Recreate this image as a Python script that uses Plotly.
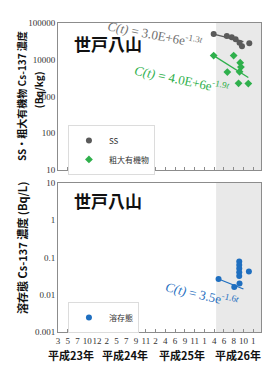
import plotly.graph_objects as go
from plotly.subplots import make_subplots

# ---- data ----
tick_labels = ["3", "5", "7", "10", "12", "2", "5", "7", "9", "11", "2", "4", "6", "9", "11", "1", "4", "6", "8", "10", "1"]
year_labels = ["平成23年", "平成24年", "平成25年", "平成26年"]
year_pos = [1.3, 6.9, 12.75, 18.4]

ss_x = [15.95, 17.3, 17.8, 18.2, 18.6, 18.85, 19.6]
ss_y = [50000, 44500, 40800, 36000, 29000, 23400, 28000]
ss_fit_x = [15.95, 19.0]
ss_fit_y = [50000, 31000]

org_x = [15.95, 18.0, 18.67, 18.74, 17.35, 18.6, 18.5, 19.5]
org_y = [13000, 13000, 8300, 6330, 4640, 4730, 2290, 2250]
org_fit_x = [15.95, 19.5]
org_fit_y = [13000, 3300]

dis_x = [16.45, 18.06, 18.57, 18.57, 18.57, 18.57, 18.57, 18.6, 19.56]
dis_y = [0.0265, 0.0162, 0.078, 0.063, 0.051, 0.040, 0.032, 0.020, 0.042]
dis_fit_x = [16.45, 19.0]
dis_fit_y = [0.0265, 0.0143]

top_ticks = [10, 100, 1000, 10000, 100000]
top_ticktext = ["10", "100", "1000", "10000", "100000"]
bot_ticks = [0.001, 0.01, 0.1, 1, 10]
bot_ticktext = ["0.001", "0.01", "0.1", "1", "10"]

shade_range = [16.2, 20.8]
x_range = [0, 20.8]

GRAY = "#5a5a5a"
GREEN = "#2fb04c"
BLUE = "#1f6fc0"
CJK = "Noto Sans CJK JP"
SERIF = "Liberation Serif"

fig = make_subplots(rows=2, cols=1, shared_xaxes=False, vertical_spacing=0.04)

fig.add_trace(go.Scatter(x=ss_fit_x, y=ss_fit_y, mode="lines", line=dict(color=GRAY, width=1.3),
                         showlegend=False, hoverinfo="skip"), row=1, col=1)
fig.add_trace(go.Scatter(x=org_fit_x, y=org_fit_y, mode="lines", line=dict(color=GREEN, width=1.3),
                         showlegend=False, hoverinfo="skip"), row=1, col=1)
fig.add_trace(go.Scatter(x=ss_x, y=ss_y, mode="markers", name="SS",
                         marker=dict(color=GRAY, size=6, symbol="circle"), legend="legend"), row=1, col=1)
fig.add_trace(go.Scatter(x=org_x, y=org_y, mode="markers", name="粗大有機物",
                         marker=dict(color=GREEN, size=6, symbol="diamond"), legend="legend"), row=1, col=1)

fig.add_trace(go.Scatter(x=dis_fit_x, y=dis_fit_y, mode="lines", line=dict(color=BLUE, width=1.3),
                         showlegend=False, hoverinfo="skip"), row=2, col=1)
fig.add_trace(go.Scatter(x=dis_x, y=dis_y, mode="markers", name="溶存態",
                         marker=dict(color=BLUE, size=6, symbol="circle"), legend="legend2"), row=2, col=1)

top_dom = [0.524, 1.0]
bot_dom = [0.0, 0.482]

axis_common = dict(showline=True, mirror=True, linecolor="#8c8c8c", linewidth=1, showgrid=False, zeroline=False)
fig.update_layout(
    xaxis=dict(range=x_range, tickvals=list(range(len(tick_labels))), ticktext=tick_labels,
               showticklabels=False, ticks="inside", ticklen=3, tickcolor="#8c8c8c", **axis_common),
    xaxis2=dict(range=x_range, tickvals=list(range(len(tick_labels))), ticktext=tick_labels,
                ticks="inside", ticklen=3, tickcolor="#8c8c8c",
                tickfont=dict(family=SERIF, size=9, color="#333"), tickangle=0, **axis_common),
    yaxis=dict(type="log", domain=top_dom, range=[1, 5], tickvals=top_ticks, ticktext=top_ticktext,
               tickfont=dict(family=SERIF, size=9, color="#333"), ticks="", **axis_common),
    yaxis2=dict(type="log", domain=bot_dom, range=[-3, 1], tickvals=bot_ticks, ticktext=bot_ticktext,
                tickfont=dict(family=SERIF, size=9, color="#333"), ticks="", **axis_common),
)
fig.update_xaxes(domain=[0, 1])

fig.add_shape(type="rect", xref="x", yref="y domain", x0=shade_range[0], x1=shade_range[1], y0=0, y1=1,
              fillcolor="#e9e9e9", line_width=0, layer="below")
fig.add_shape(type="rect", xref="x2", yref="y2 domain", x0=shade_range[0], x1=shade_range[1], y0=0, y1=1,
              fillcolor="#e9e9e9", line_width=0, layer="below")

C = dict(xanchor="center", yanchor="middle", showarrow=False)
ann = []
ann.append(dict(text="<b>世戸八山</b>", xref="paper", yref="paper", x=0.069, y=0.935, xanchor="left",
                yanchor="middle", showarrow=False, font=dict(family=CJK, size=17, color="#111")))
ann.append(dict(text="<b>世戸八山</b>", xref="paper", yref="paper", x=0.069, y=0.427, xanchor="left",
                yanchor="middle", showarrow=False, font=dict(family=CJK, size=17, color="#111")))
ann.append(dict(text="<i>C(t)</i> = 3.0E+6e<sup>-1.3<i>t</i></sup>", xref="paper", yref="paper", x=0.478, y=0.963,
                textangle=11, font=dict(family=SERIF, size=13, color="#707070"), **C))
ann.append(dict(text="<i>C(t)</i> = 4.0E+6e<sup>-1.9<i>t</i></sup>", xref="paper", yref="paper", x=0.61, y=0.82,
                textangle=12, font=dict(family=SERIF, size=13, color=GREEN), **C))
ann.append(dict(text="<i>C(t)</i> = 3.5e<sup>-1.6<i>t</i></sup>", xref="paper", yref="paper", x=0.709, y=0.123,
                textangle=13, font=dict(family=SERIF, size=13, color=BLUE), **C))
ann.append(dict(text="<b>SS・粗大有機物 Cs-137 濃度</b>", xref="paper", yref="paper", x=-0.177, y=0.764,
                textangle=-90, font=dict(family=CJK, size=10, color="#111"), **C))
ann.append(dict(text="<b>(Bq/kg)</b>", xref="paper", yref="paper", x=-0.095, y=0.785,
                textangle=-90, font=dict(family=CJK, size=10, color="#111"), **C))
ann.append(dict(text="<b>溶存態 Cs-137 濃度 (Bq/L)</b>", xref="paper", yref="paper", x=-0.177, y=0.272,
                textangle=-90, font=dict(family=CJK, size=11, color="#111"), **C))
for lbl, pos in zip(year_labels, year_pos):
    ann.append(dict(text="<b>" + lbl + "</b>", xref="x2", yref="paper", x=pos, y=-0.074,
                    font=dict(family=CJK, size=11, color="#111"), **C))

fig.update_layout(
    annotations=ann,
    width=270, height=370,
    margin=dict(l=58, r=9, t=23, b=38),
    paper_bgcolor="white", plot_bgcolor="white",
    legend=dict(x=0.049, y=0.67, xanchor="left", yanchor="top", bgcolor="white",
                bordercolor="#dcdcdc", borderwidth=1, font=dict(family=CJK, size=8, color="#333"),
                tracegroupgap=0, itemwidth=30),
    legend2=dict(x=0.049, y=0.097, xanchor="left", yanchor="top", bgcolor="white",
                 bordercolor="#dcdcdc", borderwidth=1, font=dict(family=CJK, size=8, color="#333"),
                 itemwidth=30),
    showlegend=True,
)

fig.write_html("out.html")
